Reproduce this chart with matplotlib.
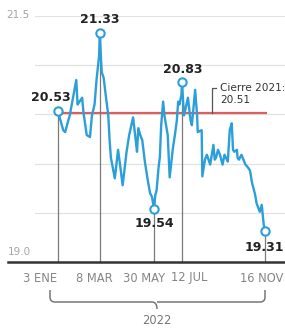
import matplotlib
matplotlib.use('Agg')
import matplotlib.pyplot as plt
import matplotlib.dates as mdates
from matplotlib.lines import Line2D
from matplotlib.path import Path
from matplotlib.patches import PathPatch
import pandas as pd

# ---------------- data ----------------
dates = [
    "2022-01-03", "2022-01-11", "2022-01-14", "2022-01-18", "2022-01-21", "2022-01-26", "2022-01-31",
    "2022-02-02", "2022-02-04", "2022-02-09", "2022-02-11", "2022-02-16", "2022-02-21", "2022-02-24", "2022-02-28",
    "2022-03-03", "2022-03-07", "2022-03-08", "2022-03-10", "2022-03-11", "2022-03-14", "2022-03-17", "2022-03-21",
    "2022-03-23", "2022-03-25", "2022-03-31",
    "2022-04-05", "2022-04-08", "2022-04-12", "2022-04-18", "2022-04-22", "2022-04-28",
    "2022-05-02", "2022-05-04", "2022-05-06", "2022-05-09", "2022-05-12", "2022-05-16", "2022-05-20", "2022-05-24",
    "2022-05-27", "2022-05-30",
    "2022-06-01", "2022-06-03", "2022-06-06", "2022-06-08", "2022-06-10", "2022-06-13", "2022-06-15", "2022-06-20",
    "2022-06-23", "2022-06-28",
    "2022-07-01", "2022-07-04", "2022-07-06", "2022-07-08", "2022-07-11", "2022-07-12", "2022-07-13", "2022-07-15",
    "2022-07-21", "2022-07-25", "2022-07-27",
    "2022-08-01", "2022-08-04", "2022-08-05", "2022-08-11", "2022-08-12", "2022-08-16", "2022-08-19", "2022-08-24",
    "2022-08-29", "2022-08-31",
    "2022-09-02", "2022-09-05", "2022-09-08", "2022-09-12", "2022-09-15", "2022-09-20", "2022-09-23", "2022-09-26",
    "2022-09-28", "2022-09-30",
    "2022-10-04", "2022-10-05", "2022-10-07", "2022-10-11", "2022-10-17", "2022-10-21", "2022-10-24", "2022-10-27",
    "2022-11-01", "2022-11-03", "2022-11-04", "2022-11-08", "2022-11-11", "2022-11-14", "2022-11-16",
]
values = [
    20.53, 20.34, 20.32, 20.42, 20.49, 20.67, 20.85,
    20.60, 20.62, 20.67, 20.52, 20.29, 20.27, 20.49, 20.60,
    20.85, 21.10, 21.33, 21.05, 20.93, 20.87, 20.70, 20.49,
    20.24, 20.06, 19.85,
    20.14, 19.99, 19.78, 20.12, 20.29, 20.47,
    20.24, 20.12, 20.36, 20.29, 20.24, 20.02, 19.85, 19.70,
    19.66, 19.54,
    19.68, 19.73, 19.96, 20.07, 20.39, 20.63, 20.49, 20.29,
    19.86, 20.16,
    20.29, 20.44, 20.63, 20.60, 20.70, 20.83, 20.70, 20.49,
    20.67, 20.44, 20.39,
    20.75, 20.49, 20.32, 20.34, 19.87, 20.04, 20.09, 19.99,
    20.19, 20.04,
    20.06, 20.14, 20.09, 19.99, 20.09, 20.02, 20.34, 20.41,
    20.14, 20.12,
    20.14, 20.06, 20.04, 20.09, 19.99, 19.96, 19.93, 19.81,
    19.68, 19.60, 19.58, 19.51, 19.58, 19.38, 19.31,
]
assert len(dates) == len(values)

hl_dates = ["2022-01-03", "2022-03-08", "2022-05-30", "2022-07-12", "2022-11-16"]
hl_values = [20.53, 21.33, 19.54, 20.83, 19.31]
hl_labels = ["20.53", "21.33", "19.54", "20.83", "19.31"]
tick_labels = ["3 ENE", "8 MAR", "30 MAY", "12 JUL", "16 NOV"]
close_2021 = 20.51
close_label = "Cierre 2021:\n20.51"
year_label = "2022"
y_labels = ["21.5", "19.0"]
grid_values = [19.5, 20.0, 20.5, 21.0, 21.5]

# ---------------- figure ----------------
W, H = 285, 335
fig = plt.figure(figsize=(W / 100, H / 100), dpi=100)
plt.rcParams['font.family'] = ['DejaVu Sans']


def fx(x):
    return x / W


def fy(y):
    return 1 - y / H


ax = fig.add_axes([fx(35), fy(262), fx(285) - fx(35), fy(16) - fy(262)])
ax.set_facecolor('none')
for s in ax.spines.values():
    s.set_visible(False)
ax.set_xticks([])
ax.set_yticks([])

d0 = mdates.date2num(pd.Timestamp("2022-01-03"))
ax.set_xlim(d0 - 35.2, d0 + 347.6)
ax.set_ylim(19.0, 21.5)

dt = pd.to_datetime(dates)
hdt = pd.to_datetime(hl_dates)

# grid
for g in grid_values:
    ax.axhline(g, color='#e2e2e2', lw=0.9, zorder=0)

# close 2021 line
ax.plot([pd.Timestamp("2022-01-03"), pd.Timestamp("2022-11-19")], [close_2021, close_2021],
        color='#d9605f', lw=1.6, zorder=1, solid_capstyle='butt')

# vertical drop lines
ax.vlines(hdt, 19.0, hl_values, color='#7a7a7a', lw=0.9, zorder=2)

# series
ax.plot(dt, values, color='#2b9fd9', lw=1.7, zorder=3, solid_joinstyle='round')

# highlighted points
ax.plot(hdt, hl_values, 'o', ms=6, mfc='white', mec='#2b9fd9', mew=1.5, zorder=4)

offsets = [(-7, 14), (0, 13), (0, -15), (1, 12), (-1, -16)]
for d, v, lab, off in zip(hdt, hl_values, hl_labels, offsets):
    ax.annotate(lab, (d, v), xytext=off, textcoords='offset pixels', ha='center', va='center',
                fontsize=9, fontweight='bold', color='#222222', zorder=5)

# bottom tick labels
tick_offsets = [-18, -5, -10, 7, -3]
for d, lab, off in zip(hdt, tick_labels, tick_offsets):
    ax.annotate(lab, (d, 19.0), xytext=(off, -16), textcoords='offset pixels', ha='center', va='center',
                fontsize=8.3, color='#858585', annotation_clip=False)

# y labels
fig.text(fx(18), fy(15.5), y_labels[0], ha='center', va='center', fontsize=7.5, color='#a5a5a5')
fig.text(fx(19), fy(252), y_labels[1], ha='center', va='center', fontsize=7.5, color='#a5a5a5')

# baseline
fig.add_artist(Line2D([fx(8), fx(285)], [fy(262), fy(262)], transform=fig.transFigure,
                      color='#333333', lw=1.8))

# close label with bracket
fig.add_artist(Line2D([fx(212), fx(212), fx(216)], [fy(113), fy(88), fy(88)], transform=fig.transFigure,
                      color='#555555', lw=0.9))
fig.text(fx(220), fy(94), close_label, ha='left', va='center', fontsize=7.6, color='#333333', linespacing=1.25)

# curly bracket for year
verts = [
    (50, 290), (50, 297), (50, 302), (55, 302), (152, 302), (157, 302), (157, 309),
    (157, 302), (162, 302), (260, 302), (265, 302), (265, 297), (265, 290),
]
codes = [Path.MOVETO, Path.LINETO, Path.CURVE3, Path.CURVE3, Path.LINETO, Path.CURVE3, Path.CURVE3,
         Path.MOVETO, Path.LINETO, Path.LINETO, Path.CURVE3, Path.CURVE3, Path.LINETO]
path = Path([(fx(x), fy(y)) for x, y in verts], codes)
fig.add_artist(PathPatch(path, transform=fig.transFigure, facecolor='none', edgecolor='#777777', lw=1.1))
fig.text(fx(157), fy(321), year_label, ha='center', va='center', fontsize=8.3, color='#777777')

fig.savefig('out.png', dpi=100, facecolor='white')
